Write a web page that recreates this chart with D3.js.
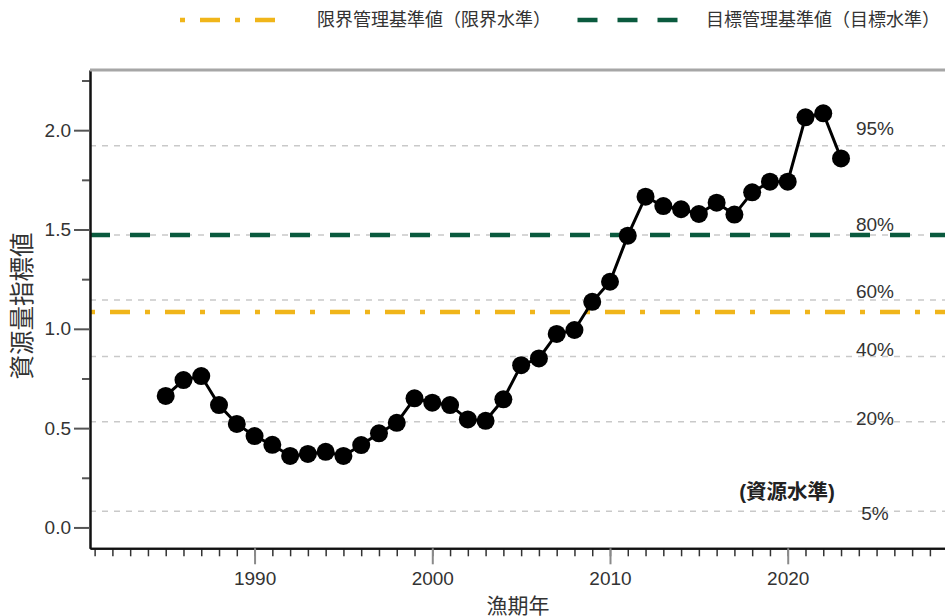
<!DOCTYPE html>
<html>
<head>
<meta charset="utf-8">
<script src="https://cdn.jsdelivr.net/npm/d3@7"></script>
<style>
body { margin: 0; background: #fff; }
svg { display: block; font-family: "Liberation Sans", "Noto Sans CJK JP", sans-serif; }
</style>
</head>
<body>
<div id="chart-area"></div>
<script>
// 資源量指標値 by 漁期年
const years = [1985, 1986, 1987, 1988, 1989, 1990, 1991, 1992, 1993, 1994,
    1995, 1996, 1997, 1998, 1999, 2000, 2001, 2002, 2003, 2004,
    2005, 2006, 2007, 2008, 2009, 2010, 2011, 2012, 2013, 2014,
    2015, 2016, 2017, 2018, 2019, 2020, 2021, 2022, 2023];
const indexValues = [0.662, 0.742, 0.762, 0.616, 0.521, 0.460, 0.416, 0.360, 0.370, 0.381,
    0.360, 0.415, 0.474, 0.527, 0.650, 0.628, 0.616, 0.544, 0.537, 0.645,
    0.817, 0.851, 0.974, 0.994, 1.136, 1.237, 1.469, 1.665, 1.618, 1.602,
    1.578, 1.635, 1.575, 1.687, 1.741, 1.741, 2.065, 2.085, 1.858];

// percentile lines (資源水準) and where their labels sit
const percentileLabels = ['95%', '80%', '60%', '40%', '20%', '5%'];
const percentileValues = [1.922, 1.472, 1.145, 0.860, 0.532, 0.082];
const percentileLabelValues = [2.007, 1.523, 1.187, 0.898, 0.547, 0.070];

const limitValue = 1.085;   // 限界管理基準値
const targetValue = 1.472;  // 目標管理基準値
const legendLabels = ['限界管理基準値（限界水準）', '目標管理基準値（目標水準）'];

const yTicks = [0, 0.5, 1.0, 1.5, 2.0];
const yMinorTicks = [0.25, 0.75, 1.25, 1.75, 2.25];
const xTicks = [1990, 2000, 2010, 2020];
const xDomain = [1980.74, 2028.85];
const yDomain = [-0.105, 2.303];

const YELLOW = '#f0b51a';
const GREEN = '#0a5a3e';
const TEXT = '#333';

function drawChart() {
    const margin = { top: 70, left: 90, right: 0, bottom: 67.7 },
        width = 945 - margin.left - margin.right,
        height = 616 - margin.top - margin.bottom;

    const svg = d3.select('#chart-area')
        .append('svg')
        .attr('width', 945)
        .attr('height', 616);

    const g = svg.append('g')
        .attr('transform', `translate(${margin.left}, ${margin.top})`);

    const xScale = d3.scaleLinear().domain(xDomain).range([0, width]);
    const yScale = d3.scaleLinear().domain(yDomain).range([height, 0]);

    // percentile grid lines
    g.selectAll('.pct-line')
        .data(percentileValues)
        .enter()
        .append('line')
        .attr('class', 'pct-line')
        .attr('x1', 0)
        .attr('x2', width)
        .attr('y1', (d) => yScale(d))
        .attr('y2', (d) => yScale(d))
        .attr('stroke', '#c9c9c9')
        .attr('stroke-width', 1.5)
        .attr('stroke-dasharray', '6,6');

    g.selectAll('.pct-label')
        .data(percentileLabels)
        .enter()
        .append('text')
        .attr('class', 'pct-label')
        .attr('x', 785)
        .attr('y', (d, i) => yScale(percentileLabelValues[i]))
        .attr('text-anchor', 'middle')
        .attr('dominant-baseline', 'central')
        .attr('font-size', '19px')
        .attr('fill', TEXT)
        .text((d) => d);

    g.append('text')
        .attr('x', 697)
        .attr('y', 421)
        .attr('text-anchor', 'middle')
        .attr('dominant-baseline', 'central')
        .attr('font-size', '20.5px')
        .attr('font-weight', 'bold')
        .attr('fill', '#222')
        .text('(資源水準)');

    // reference lines
    g.append('line')
        .attr('x1', 0).attr('x2', width)
        .attr('y1', yScale(limitValue)).attr('y2', yScale(limitValue))
        .attr('stroke', YELLOW)
        .attr('stroke-width', 4.5)
        .attr('stroke-dasharray', '5,15,20,15');

    g.append('line')
        .attr('x1', 0).attr('x2', width)
        .attr('y1', yScale(targetValue)).attr('y2', yScale(targetValue))
        .attr('stroke', GREEN)
        .attr('stroke-width', 4.5)
        .attr('stroke-dasharray', '20,20');

    // axes
    const yAxisCall = d3.axisLeft(yScale)
        .tickValues(yTicks)
        .tickSize(16)
        .tickSizeOuter(0)
        .tickPadding(3)
        .tickFormat(d3.format('.1f'));
    const yMinorCall = d3.axisLeft(yScale)
        .tickValues(yMinorTicks)
        .tickSize(8)
        .tickSizeOuter(0)
        .tickFormat('');
    const xAxisCall = d3.axisBottom(xScale)
        .tickValues(xTicks)
        .tickSize(16)
        .tickSizeOuter(0)
        .tickPadding(7)
        .tickFormat(d3.format('d'));
    const xMinorCall = d3.axisBottom(xScale)
        .tickValues(d3.range(1981, 2029))
        .tickSize(8)
        .tickSizeOuter(0)
        .tickFormat('');

    const yMinor = g.append('g').attr('class', 'y minor').call(yMinorCall);
    const yAxis = g.append('g').attr('class', 'y axis').call(yAxisCall);
    const xMinor = g.append('g').attr('class', 'x minor')
        .attr('transform', `translate(0, ${height})`).call(xMinorCall);
    const xAxis = g.append('g').attr('class', 'x axis')
        .attr('transform', `translate(0, ${height})`).call(xAxisCall);

    [yMinor, yAxis, xMinor, xAxis].forEach((ax) => {
        ax.select('.domain').attr('stroke', '#111').attr('stroke-width', 2);
        ax.selectAll('text')
            .attr('font-size', '19px')
            .attr('font-family', '"Liberation Sans", sans-serif')
            .attr('fill', TEXT);
    });
    yAxis.selectAll('.tick line').attr('stroke', '#555').attr('stroke-width', 2);
    yMinor.selectAll('.tick line').attr('stroke', '#555').attr('stroke-width', 2);
    xAxis.selectAll('.tick line').attr('stroke', '#8a8a8a').attr('stroke-width', 2);
    xMinor.selectAll('.tick line').attr('stroke', '#333').attr('stroke-width', 1.5);

    // top frame line
    g.append('line')
        .attr('x1', 0).attr('x2', width)
        .attr('y1', 0).attr('y2', 0)
        .attr('stroke', '#a6a6a6')
        .attr('stroke-width', 3);

    // series
    const points = years.map((yr, i) => ({ x: yr, y: indexValues[i] }));
    const path = d3.line().x((d) => xScale(d.x)).y((d) => yScale(d.y));
    g.append('path')
        .attr('fill', 'none')
        .attr('stroke', '#000')
        .attr('stroke-width', 3)
        .attr('d', path(points));

    g.selectAll('.pt')
        .data(points)
        .enter()
        .append('circle')
        .attr('class', 'pt')
        .attr('cx', (d) => xScale(d.x))
        .attr('cy', (d) => yScale(d.y))
        .attr('r', 9)
        .attr('fill', '#000');

    // axis titles
    svg.append('text')
        .attr('transform', 'translate(22, 306) rotate(-90)')
        .attr('text-anchor', 'middle')
        .attr('dominant-baseline', 'central')
        .attr('font-size', '24.5px')
        .attr('fill', TEXT)
        .text('資源量指標値');

    svg.append('text')
        .attr('x', 518)
        .attr('y', 605)
        .attr('text-anchor', 'middle')
        .attr('dominant-baseline', 'central')
        .attr('font-size', '21px')
        .attr('fill', TEXT)
        .text('漁期年');

    // legend
    const legend = svg.append('g').attr('class', 'legend');
    legend.append('line')
        .attr('x1', 180).attr('x2', 276)
        .attr('y1', 20).attr('y2', 20)
        .attr('stroke', YELLOW)
        .attr('stroke-width', 4.5)
        .attr('stroke-dasharray', '5,15,20,15');
    legend.append('line')
        .attr('x1', 577.5).attr('x2', 677.5)
        .attr('y1', 20).attr('y2', 20)
        .attr('stroke', GREEN)
        .attr('stroke-width', 4.5)
        .attr('stroke-dasharray', '20,20');
    legend.selectAll('.legend-text')
        .data(legendLabels)
        .enter()
        .append('text')
        .attr('class', 'legend-text')
        .attr('x', (d, i) => [317, 706][i])
        .attr('y', 20)
        .attr('dominant-baseline', 'central')
        .attr('font-size', '18px')
        .attr('fill', TEXT)
        .text((d) => d);
}

drawChart();
</script>
</body>
</html>
